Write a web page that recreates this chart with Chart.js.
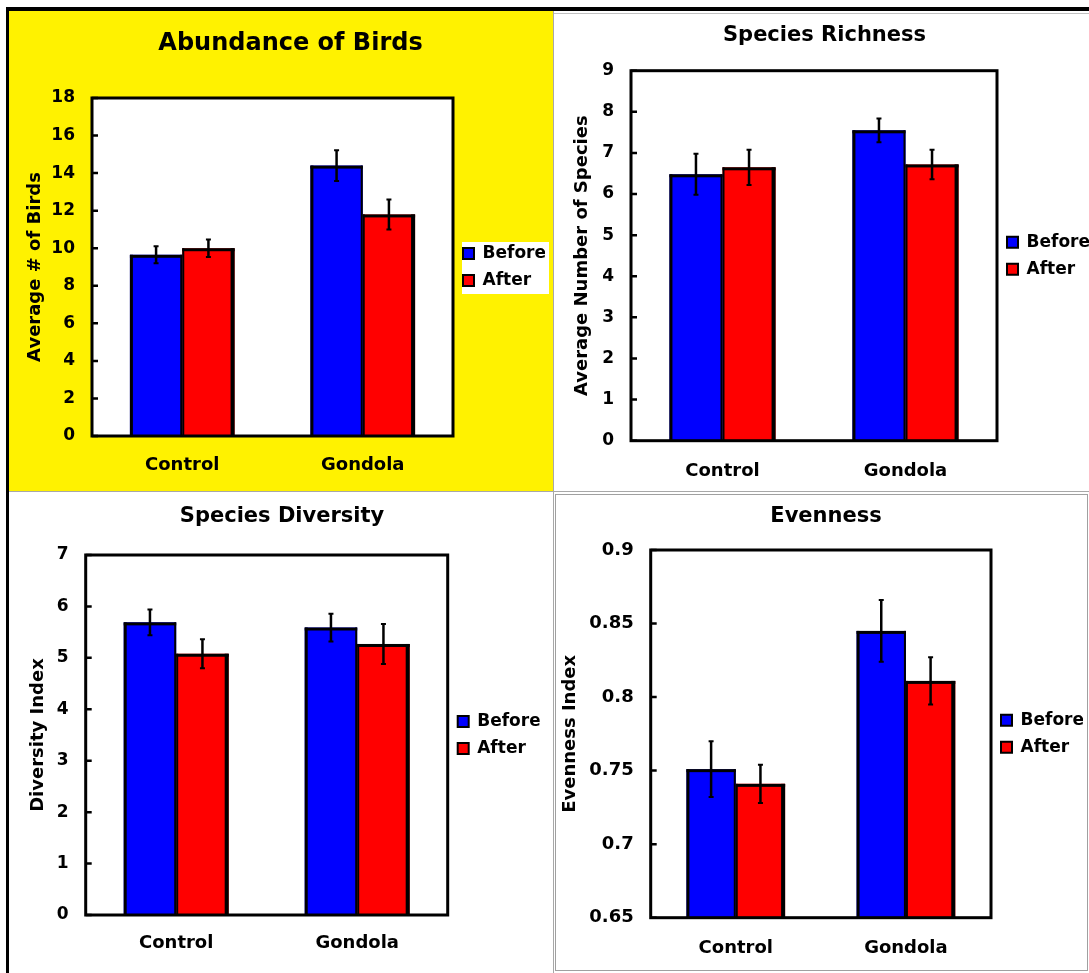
<!DOCTYPE html>
<html><head><meta charset="utf-8">
<script src="https://cdn.jsdelivr.net/npm/chart.js@4.4.1/dist/chart.umd.min.js"></script>
<style>
html,body{margin:0;padding:0;background:#fff;}
body{width:1089px;height:973px;position:relative;overflow:hidden;}
.d{position:absolute;box-sizing:border-box;}
canvas{position:absolute;}
</style></head><body>
<div class="d" style="left:9px;top:11px;width:544px;height:480px;background:#FFF200"></div>
<div class="d" style="left:6px;top:7px;width:1083px;height:4px;background:#000"></div>
<div class="d" style="left:6px;top:7px;width:3px;height:966px;background:#000"></div>
<div class="d" style="left:553px;top:11px;width:1px;height:962px;background:#a8a8a8"></div>
<div class="d" style="left:554px;top:13px;width:535px;height:1px;background:#c0c0c0"></div>
<div class="d" style="left:9px;top:491px;width:1080px;height:1px;background:#a8a8a8"></div>
<div class="d" style="left:555px;top:494px;width:533px;height:477px;border:1px solid #a0a0a0"></div>
<script>
// ---------- data ----------
const categories = ["Control", "Gondola"];
const seriesNames = ["Before", "After"];

const abundanceTitle = "Abundance of Birds";
const abundanceAxis = "Average # of Birds";
const abundanceBefore = [9.65, 14.4];
const abundanceAfter = [10.0, 11.8];
const abundanceBeforeErr = [0.45, 0.82];
const abundanceAfterErr = [0.47, 0.8];
const abundanceTicks = ["0","2","4","6","8","10","12","14","16","18"];

const richnessTitle = "Species Richness";
const richnessAxis = "Average Number of Species";
const richnessBefore = [6.48, 7.55];
const richnessAfter = [6.65, 6.72];
const richnessBeforeErr = [0.5, 0.29];
const richnessAfterErr = [0.43, 0.36];
const richnessTicks = ["0","1","2","3","4","5","6","7","8","9"];

const diversityTitle = "Species Diversity";
const diversityAxis = "Diversity Index";
const diversityBefore = [5.69, 5.59];
const diversityAfter = [5.08, 5.27];
const diversityBeforeErr = [0.25, 0.27];
const diversityAfterErr = [0.28, 0.39];
const diversityTicks = ["0","1","2","3","4","5","6","7"];

const evennessTitle = "Evenness";
const evennessAxis = "Evenness Index";
const evennessBefore = [0.751, 0.845];
const evennessAfter = [0.741, 0.811];
const evennessBeforeErr = [0.019, 0.021];
const evennessAfterErr = [0.013, 0.016];
const evennessTicks = ["0.65","0.7","0.75","0.8","0.85","0.9"];

// ---------- styling / layout ----------
const FONT = '"DejaVu Sans", Verdana, sans-serif';
const LEG_W = 92;
const AXIS_TITLE_SIZE = 18;
const BAR_EDGES = [{left: 3, top: 3, right: 2}, {left: 2, top: 3, right: 4}];

const panels = [
  {title: abundanceTitle, yTitle: abundanceAxis, before: abundanceBefore, after: abundanceAfter,
   beforeErr: abundanceBeforeErr, afterErr: abundanceAfterErr, tickLabels: abundanceTicks, min: 0, max: 18, step: 2,
   canvas: [9, 11, 553, 491], plot: [92, 98, 453, 436], titleX: 290.5, titleY: 44, titleSize: 24,
   axisTitleX: 35, tickSize: 17, catPad: 19, legendBg: true},
  {title: richnessTitle, yTitle: richnessAxis, before: richnessBefore, after: richnessAfter,
   beforeErr: richnessBeforeErr, afterErr: richnessAfterErr, tickLabels: richnessTicks, min: 0, max: 9, step: 1,
   canvas: [555, 12, 1089, 491], plot: [631, 70.7, 997, 440.7], titleX: 824.5, titleY: 36, titleSize: 21,
   axisTitleX: 582, tickSize: 17, catPad: 19.5},
  {title: diversityTitle, yTitle: diversityAxis, before: diversityBefore, after: diversityAfter,
   beforeErr: diversityBeforeErr, afterErr: diversityAfterErr, tickLabels: diversityTicks, min: 0, max: 7, step: 1,
   canvas: [9, 493, 553, 973], plot: [85.7, 555, 447.7, 915], titleX: 282, titleY: 517, titleSize: 21,
   axisTitleX: 38, tickSize: 17, catPad: 18},
  {title: evennessTitle, yTitle: evennessAxis, before: evennessBefore, after: evennessAfter,
   beforeErr: evennessBeforeErr, afterErr: evennessAfterErr, tickLabels: evennessTicks, min: 0.65, max: 0.9, step: 0.05,
   canvas: [555, 494, 1089, 971], plot: [650.7, 550, 991, 917.7], titleX: 826, titleY: 517, titleSize: 21,
   axisTitleX: 570, tickSize: 18, catPad: 19.5}
];

const backgroundPlugin = {
  id: 'panelBg',
  beforeDraw(chart) {
    const o = chart.$panel, ca = chart.chartArea, ctx = chart.ctx;
    ctx.save();
    ctx.fillStyle = '#fff';
    ctx.fillRect(ca.left, ca.top, ca.right - ca.left, ca.bottom - ca.top);
    if (o.legendBg && chart.legend) {
      const mid = (ca.top + ca.bottom) / 2;
      ctx.fillRect(chart.legend.left + 9, mid - 25, 87, 52);
    }
    ctx.restore();
  }
};

const barOutlinePlugin = {
  id: 'barOutline',
  afterDatasetsDraw(chart) {
    const ctx = chart.ctx, ca = chart.chartArea;
    ctx.save();
    ctx.beginPath();
    ctx.rect(ca.left, ca.top, ca.right - ca.left, ca.bottom - ca.top);
    ctx.clip();
    ctx.fillStyle = '#000';
    chart.data.datasets.forEach((ds, di) => {
      const ed = BAR_EDGES[di];
      chart.getDatasetMeta(di).data.forEach(bar => {
        const {x, y, base, width} = bar.getProps(['x', 'y', 'base', 'width'], true);
        const b = Math.min(base, ca.bottom);
        const l = x - width / 2, r = x + width / 2, h = b - y;
        ctx.fillRect(l, y, ed.left, h);
        ctx.fillRect(l, y, width, ed.top);
        ctx.fillRect(r - ed.right, y, ed.right, h);
      });
    });
    ctx.restore();
  }
};

const framePlugin = {
  id: 'frame',
  afterDatasetsDraw(chart) {
    const ctx = chart.ctx, ca = chart.chartArea, ys = chart.scales.y;
    ctx.save();
    ctx.strokeStyle = '#000';
    ctx.lineWidth = 3;
    ctx.strokeRect(ca.left, ca.top, ca.right - ca.left, ca.bottom - ca.top);
    ctx.lineWidth = 2.5;
    ctx.beginPath();
    ys.ticks.forEach(t => {
      const py = ys.getPixelForValue(t.value);
      ctx.moveTo(ca.left, py);
      ctx.lineTo(ca.left + 6, py);
    });
    ctx.stroke();
    ctx.restore();
  }
};

const errorBarPlugin = {
  id: 'errorBars',
  afterDatasetsDraw(chart) {
    const ctx = chart.ctx, ys = chart.scales.y;
    ctx.save();
    ctx.strokeStyle = '#000';
    chart.data.datasets.forEach((ds, di) => {
      const meta = chart.getDatasetMeta(di);
      meta.data.forEach((bar, i) => {
        const v = ds.data[i], e = ds.errors[i];
        const yt = ys.getPixelForValue(v + e), yb = ys.getPixelForValue(v - e);
        const x = bar.x;
        ctx.lineWidth = 2.5;
        ctx.beginPath(); ctx.moveTo(x, yt); ctx.lineTo(x, yb); ctx.stroke();
        ctx.lineWidth = 2;
        ctx.beginPath();
        ctx.moveTo(x - 2.5, yt); ctx.lineTo(x + 2.5, yt);
        ctx.moveTo(x - 2.5, yb); ctx.lineTo(x + 2.5, yb);
        ctx.stroke();
      });
    });
    ctx.restore();
  }
};

function buildPanel(p) {
  const [PL, PT, PR, PB] = p.canvas;
  const [pL, pT, pR, pB] = p.plot;
  const W = PR - PL, H = PB - PT;
  const E = pR + LEG_W;
  const A = 2 * p.titleX - E;
  const padL = A - PL, padR = PR - E;
  const yW = pL - A;
  const tlh = p.titleSize * 1.2;
  const tPadTop = p.titleY - PT - tlh / 2;
  const tPadBottom = pT - PT - tlh - tPadTop;
  const axPad = p.axisTitleX - A - AXIS_TITLE_SIZE * 1.2 / 2;
  const xH = PB - pB;

  const cv = document.createElement('canvas');
  cv.width = W; cv.height = H;
  cv.style.left = PL + 'px'; cv.style.top = PT + 'px';
  cv.style.width = W + 'px'; cv.style.height = H + 'px';
  document.body.appendChild(cv);

  new Chart(cv, {
    type: 'bar',
    data: {
      labels: categories,
      datasets: [
        {label: seriesNames[0], data: p.before, errors: p.beforeErr, backgroundColor: '#0000FF',
         borderColor: '#000', borderWidth: 0, inflateAmount: 0},
        {label: seriesNames[1], data: p.after, errors: p.afterErr, backgroundColor: '#FF0000',
         borderColor: '#000', borderWidth: 0, inflateAmount: 0}
      ]
    },
    options: {
      responsive: false, animation: false, devicePixelRatio: 1,
      layout: {padding: {left: padL, right: padR, top: 0, bottom: 0}},
      datasets: {bar: {categoryPercentage: 0.58, barPercentage: 1}},
      plugins: {
        title: {display: true, text: p.title, color: '#000',
          font: {family: FONT, size: p.titleSize, weight: 'bold', lineHeight: 1.2},
          padding: {top: tPadTop, bottom: tPadBottom}},
        legend: {display: true, position: 'right', fullSize: false, maxWidth: LEG_W, align: 'center',
          labels: {color: '#000', font: {family: FONT, size: 17, weight: 'bold'}, boxWidth: 11, boxHeight: 11, padding: 10,
            generateLabels(ch) {
              return Chart.defaults.plugins.legend.labels.generateLabels(ch)
                .map(l => Object.assign(l, {lineWidth: 2, strokeStyle: '#000'}));
            }}},
        tooltip: {enabled: false}
      },
      scales: {
        x: {grid: {display: false, drawTicks: false}, border: {display: false},
          ticks: {color: '#000', font: {family: FONT, size: 18, weight: 'bold'}, padding: p.catPad},
          afterFit(s) { s.height = xH; }},
        y: {min: p.min, max: p.max, grid: {display: false, drawTicks: false}, border: {display: false},
          ticks: {stepSize: p.step, color: '#000', font: {family: FONT, size: p.tickSize, weight: 'bold'}, padding: 17,
            callback: (v, i) => p.tickLabels[i]},
          title: {display: true, text: p.yTitle, color: '#000',
            font: {family: FONT, size: AXIS_TITLE_SIZE, weight: 'bold', lineHeight: 1.2},
            padding: {top: axPad, bottom: 0}},
          afterFit(s) { s.width = yW; }}
      }
    },
    plugins: [
      {id: 'panelRef', beforeInit(c) { c.$panel = p; }},
      backgroundPlugin, barOutlinePlugin, framePlugin, errorBarPlugin
    ]
  });
}

panels.forEach(buildPanel);
</script>
</body></html>
